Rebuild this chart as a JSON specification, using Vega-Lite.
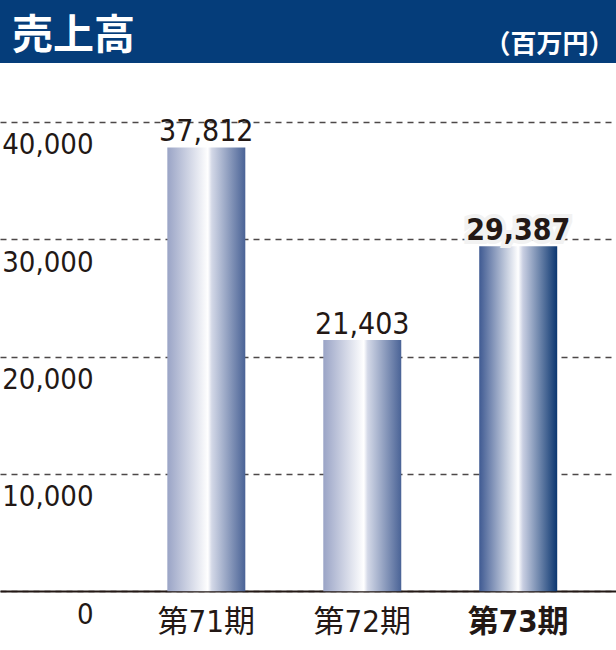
{
  "$schema": "https://vega.github.io/schema/vega-lite/v6.json",
  "width": 616,
  "height": 650,
  "autosize": {"type": "fit", "contains": "padding"},
  "padding": {"top": 16, "left": 0, "right": 0, "bottom": 0},
  "background": "#053d7a",
  "title": {
    "text": "売上高",
    "anchor": "start",
    "dx": 12,
    "offset": -27,
    "fontSize": 41,
    "font": "Noto Sans CJK JP",
    "fontWeight": "bold",
    "color": "white"
  },
  "data": {
    "values": [
      {"period": "第71期", "sales": 37812},
      {"period": "第72期", "sales": 21403},
      {"period": "第73期", "sales": 29387}
    ]
  },
  "encoding": {
    "x": {
      "field": "period",
      "type": "nominal",
      "sort": null,
      "scale": {"paddingInner": 0.5, "paddingOuter": 0.725, "align": 0.74},
      "axis": {
        "orient": "bottom",
        "offset": -59,
        "title": null,
        "domain": true,
        "domainColor": "#231815",
        "domainWidth": 2,
        "ticks": false,
        "labelAngle": 0,
        "labelPadding": 16,
        "labelBaseline": "top",
        "labelFontSize": 31,
        "labelColor": "#231815",
        "labelFont": "Liberation Sans Narrow, DejaVu Sans Condensed, Noto Sans CJK JP",
        "labelFontWeight": {
          "condition": {"test": "datum.value === '第73期'", "value": "bold"},
          "value": "normal"
        }
      }
    },
    "y": {
      "field": "sales",
      "type": "quantitative",
      "scale": {"domain": [-5000, 45000], "nice": false, "zero": false},
      "axis": {
        "title": "（百万円）",
        "titleAngle": 0,
        "titleX": 614,
        "titleY": -11,
        "titleAlign": "right",
        "titleBaseline": "alphabetic",
        "titleColor": "white",
        "titleFontSize": 26,
        "titleFont": "Noto Sans CJK JP",
        "titleFontWeight": "bold",
        "values": [0, 10000, 20000, 30000, 40000],
        "format": ",d",
        "domain": false,
        "ticks": false,
        "tickSize": 0,
        "labelAlign": "right",
        "labelPadding": -93,
        "labelBaseline": "alphabetic",
        "labelOffset": 32,
        "labelFontSize": 29,
        "labelFont": "Liberation Sans Narrow, DejaVu Sans Condensed, Noto Sans CJK JP",
        "labelColor": "#231815",
        "labelBound": false,
        "labelFlush": false,
        "labelOverlap": false,
        "grid": true,
        "gridDash": [6, 5],
        "gridColor": "#4d4848",
        "gridWidth": 1.5
      }
    }
  },
  "layer": [
    {
      "mark": {"type": "bar"},
      "encoding": {
        "color": {
          "condition": {
            "test": "datum.period === '第73期'",
            "value": {
              "gradient": "linear",
              "x1": 0, "x2": 1, "y1": 0, "y2": 0,
              "stops": [
                {"offset": 0, "color": "#3f5a92"},
                {"offset": 0.5, "color": "#ffffff"},
                {"offset": 0.56, "color": "#c9cfe2"},
                {"offset": 1, "color": "#0b3670"}
              ]
            }
          },
          "value": {
            "gradient": "linear",
            "x1": 0, "x2": 1, "y1": 0, "y2": 0,
            "stops": [
              {"offset": 0, "color": "#9aa4c6"},
              {"offset": 0.52, "color": "#ffffff"},
              {"offset": 0.57, "color": "#d3d8e7"},
              {"offset": 1, "color": "#4a6396"}
            ]
          }
        }
      }
    },
    {
      "transform": [{"filter": "datum.period !== '第73期'"}],
      "mark": {
        "type": "text",
        "baseline": "alphabetic",
        "dy": -6,
        "fontSize": 30,
        "font": "Liberation Sans Narrow, DejaVu Sans Condensed, Noto Sans CJK JP",
        "color": "#231815"
      },
      "encoding": {"text": {"field": "sales", "format": ",d"}}
    },
    {
      "transform": [{"filter": "datum.period === '第73期'"}],
      "mark": {
        "type": "text",
        "baseline": "alphabetic",
        "dy": -6,
        "fontSize": 30,
        "fontWeight": "bold",
        "font": "Liberation Sans Narrow, DejaVu Sans Condensed, Noto Sans CJK JP",
        "color": "#f2f2f2",
        "stroke": "#f2f2f2",
        "strokeWidth": 8
      },
      "encoding": {"text": {"field": "sales", "format": ",d"}}
    },
    {
      "transform": [{"filter": "datum.period === '第73期'"}],
      "mark": {
        "type": "text",
        "baseline": "alphabetic",
        "dy": -6,
        "fontSize": 30,
        "fontWeight": "bold",
        "font": "Liberation Sans Narrow, DejaVu Sans Condensed, Noto Sans CJK JP",
        "color": "#231815"
      },
      "encoding": {"text": {"field": "sales", "format": ",d"}}
    }
  ],
  "config": {"view": {"fill": "white", "stroke": null}}
}
